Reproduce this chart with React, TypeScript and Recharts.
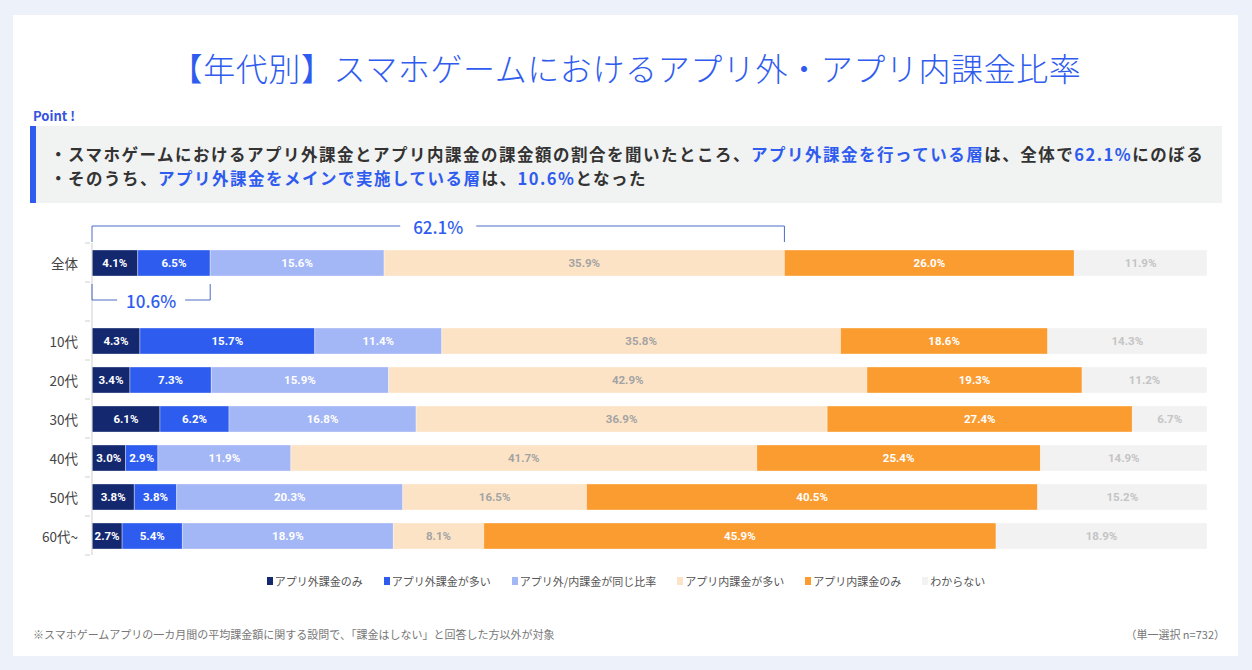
import React from 'react';
import { BarChart, Bar, XAxis, YAxis, LabelList, Legend } from 'recharts';

const categories = ['全体', '', '10代', '20代', '30代', '40代', '50代', '60代~'];
const outOnly = [4.1, 0, 4.3, 3.4, 6.1, 3.0, 3.8, 2.7];
const outMore = [6.5, 0, 15.7, 7.3, 6.2, 2.9, 3.8, 5.4];
const same = [15.6, 0, 11.4, 15.9, 16.8, 11.9, 20.3, 18.9];
const inMore = [35.9, 0, 35.8, 42.9, 36.9, 41.7, 16.5, 8.1];
const inOnly = [26.0, 0, 18.6, 19.3, 27.4, 25.4, 40.5, 45.9];
const unknown = [11.9, 0, 14.3, 11.2, 6.7, 14.9, 15.2, 18.9];

const seriesNames = ['アプリ外課金のみ', 'アプリ外課金が多い', 'アプリ外/内課金が同じ比率', 'アプリ内課金が多い', 'アプリ内課金のみ', 'わからない'];
const seriesKeys = ['outOnly', 'outMore', 'same', 'inMore', 'inOnly', 'unknown'];
const seriesColors = ['#13286f', '#2d5cef', '#a3b6f6', '#fde3c6', '#fb9c31', '#f2f2f2'];
const labelColors = ['#ffffff', '#ffffff', '#ffffff', '#a3a3a3', '#ffffff', '#c4c4c4'];

const bracketTop = '62.1%';
const bracketBottom = '10.6%';

const data = categories.map((c, i) => ({
  cat: c,
  outOnly: outOnly[i],
  outMore: outMore[i],
  same: same[i],
  inMore: inMore[i],
  inOnly: inOnly[i],
  unknown: unknown[i],
}));

const BLUE = '#2f5cef';
const LINE = '#4a6cc6';
const BAND = 312 / 8;
const LABEL_FONT = '"Liberation Sans Narrow", "Arial Narrow", "Roboto", sans-serif';
const JP = '"Noto Sans CJK JP", "Noto Sans", sans-serif';

const makeLabel = (color: string) => (props: any) => {
  const { x, y, width, height, value } = props;
  if (!value || !isFinite(width) || width <= 0) return null;
  return (
    <text
      x={x + width / 2}
      y={y + height / 2}
      textAnchor="middle"
      dominantBaseline="central"
      fill={color}
      fontSize={11.5}
      fontWeight={700}
      fontFamily={LABEL_FONT}
    >
      {Number(value).toFixed(1)}%
    </text>
  );
};

// Bracket above 全体 (out-only + out-more + same + in-more), drawn from the in-more bar geometry
const TopBracket = (props: any) => {
  const { x, y, width, value, index } = props;
  if (index !== 0) return null;
  const ppu = width / value;
  const before = outOnly[0] + outMore[0] + same[0];
  const x0 = x - before * ppu;
  const x1 = x + width;
  const ly = y - 24;
  const mid = (x0 + x1) / 2;
  return (
    <g>
      <path d={`M${x0},${y - 8} V${ly} H${x1} V${y - 8}`} fill="none" stroke={LINE} strokeWidth={1} />
      <rect x={mid - 38} y={ly - 12} width={76} height={24} fill="#ffffff" />
      <text x={mid} y={ly} textAnchor="middle" dominantBaseline="central" fill={BLUE} fontSize={17} fontWeight={500} fontFamily={JP}>
        {bracketTop}
      </text>
    </g>
  );
};

// Bracket below 全体 (out-only + out-more), drawn from the out-more bar geometry
const BottomBracket = (props: any) => {
  const { x, y, width, height, value, index } = props;
  if (index !== 0) return null;
  const ppu = width / value;
  const x0 = x - outOnly[0] * ppu;
  const x1 = x + width;
  const by = y + height;
  const ly = by + 24;
  const mid = (x0 + x1) / 2;
  return (
    <g>
      <path d={`M${x0},${by + 8} V${ly} H${x1} V${by + 8}`} fill="none" stroke={LINE} strokeWidth={1} />
      <rect x={mid - 34} y={ly - 12} width={68} height={24} fill="#ffffff" />
      <text x={mid} y={ly} textAnchor="middle" dominantBaseline="central" fill={BLUE} fontSize={17} fontWeight={500} fontFamily={JP}>
        {bracketBottom}
      </text>
    </g>
  );
};

const CatTick = (props: any) => {
  const { x, y, payload, index } = props;
  const tx = x + 6;
  return (
    <g>
      <line x1={tx - 5} x2={tx} y1={y - BAND / 2} y2={y - BAND / 2} stroke="#cfcfcf" />
      {index === categories.length - 1 && (
        <line x1={tx - 5} x2={tx} y1={y + BAND / 2} y2={y + BAND / 2} stroke="#cfcfcf" />
      )}
      <text x={tx - 12} y={y} textAnchor="end" dominantBaseline="central" fill="#444" fontSize={13.5} fontFamily={JP}>
        {payload.value}
      </text>
    </g>
  );
};

const LegendContent = () => (
  <div style={{ display: 'flex', justifyContent: 'center', gap: 21, fontFamily: JP, fontSize: 11, color: '#555' }}>
    {seriesNames.map((n, i) => (
      <div key={n} style={{ display: 'flex', alignItems: 'center' }}>
        <span style={{ display: 'inline-block', width: 6, height: 8, background: seriesColors[i], marginRight: 2 }} />
        <span>{n}</span>
      </div>
    ))}
  </div>
);

const lineStyle: React.CSSProperties = {
  position: 'absolute',
  left: 20,
  fontSize: 16.5,
  letterSpacing: 1.5,
  fontWeight: 700,
  color: '#333',
  lineHeight: '20px',
  height: 20,
  whiteSpace: 'nowrap',
};

export default function App() {
  return (
    <div style={{ position: 'absolute', left: 0, top: 0, width: 1252, height: 670, background: '#edf2fa', overflow: 'hidden', fontFamily: JP }}>
      <div style={{ position: 'absolute', left: 13, top: 15, width: 1225, height: 641, background: '#ffffff' }} />
      <div style={{ position: 'absolute', left: 0, top: 46, width: 1252, textAlign: 'center', fontSize: 32, color: BLUE, fontWeight: 300, letterSpacing: 0.6, lineHeight: '42px' }}>
        【年代別】スマホゲームにおけるアプリ外・アプリ内課金比率
      </div>
      <div style={{ position: 'absolute', left: 33, top: 107, fontSize: 13, fontWeight: 700, color: '#3552e0', lineHeight: '18px' }}>Point !</div>
      <div style={{ position: 'absolute', left: 30, top: 126, width: 1192, height: 77, background: '#f1f2f2' }}>
        <div style={{ position: 'absolute', left: 0, top: 0, width: 6, height: 77, background: BLUE }} />
        <div style={{ ...lineStyle, top: 18 }}>
          ・スマホゲームにおけるアプリ外課金とアプリ内課金の課金額の割合を聞いたところ、<span style={{ color: BLUE }}>アプリ外課金を行っている層</span>は、全体で<span style={{ color: BLUE }}>62.1%</span>にのぼる
        </div>
        <div style={{ ...lineStyle, top: 42 }}>
          ・そのうち、<span style={{ color: BLUE }}>アプリ外課金をメインで実施している層</span>は、<span style={{ color: BLUE }}>10.6%</span>となった
        </div>
      </div>

      <div style={{ position: 'absolute', left: 0, top: 200 }}>
        <BarChart
          width={1252}
          height={400}
          data={data}
          layout="vertical"
          stackOffset="expand"
          margin={{ top: 43, right: 45, bottom: 45, left: 32 }}
          barSize={26}
        >
          <XAxis type="number" hide domain={[0, 1]} />
          <YAxis
            type="category"
            dataKey="cat"
            width={60}
            axisLine={{ stroke: '#cfcfcf' }}
            tickLine={false}
            tick={<CatTick />}
            interval={0}
          />
          <Legend
            layout="horizontal"
            verticalAlign="middle"
            align="center"
            content={<LegendContent />}
            wrapperStyle={{ top: 373, left: 0, width: 1252 }}
          />
          {seriesKeys.map((k, i) => (
            <Bar
              key={k}
              dataKey={k}
              name={seriesNames[i]}
              stackId="a"
              fill={seriesColors[i]}
              stroke="#ffffff"
              strokeOpacity={0.35}
              strokeWidth={1}
              isAnimationActive={false}
            >
              <LabelList dataKey={k} content={makeLabel(labelColors[i])} />
              {i === 3 && <LabelList dataKey={k} content={<TopBracket />} />}
              {i === 1 && <LabelList dataKey={k} content={<BottomBracket />} />}
            </Bar>
          ))}
        </BarChart>
      </div>

      <div style={{ position: 'absolute', left: 33, top: 626, fontSize: 11, color: '#777', lineHeight: '16px' }}>
        ※スマホゲームアプリの一カ月間の平均課金額に関する設問で、「課金はしない」と回答した方以外が対象
      </div>
      <div style={{ position: 'absolute', right: 27, top: 626, fontSize: 11, color: '#777', lineHeight: '16px' }}>
        （単一選択 n=732）
      </div>
    </div>
  );
}
